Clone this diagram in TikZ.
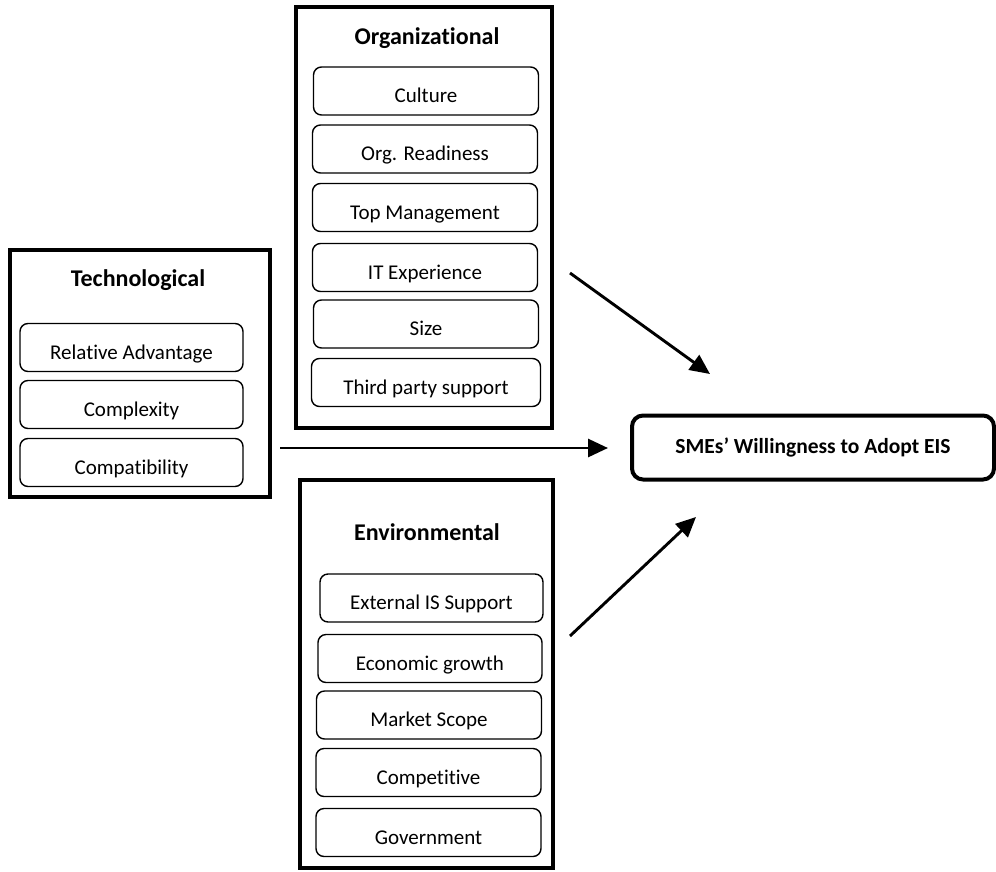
\documentclass[tikz,border=0pt]{standalone}
\usepackage{fontspec}
\setmainfont{Carlito}[Ligatures={NoCommon,NoContextual}, Contextuals=NoAlternate]
\usetikzlibrary{arrows.meta}

\begin{document}
\begin{tikzpicture}[x=1pt, y=-1pt,
  group/.style={draw, line width=3.5pt, inner sep=0pt},
  factor/.style={draw, line width=1.4pt, rounded corners=8pt, minimum width=225pt, minimum height=48pt,
    inner sep=0pt, text height=23.5pt, text depth=0pt, font=\fontsize{21}{25}\selectfont},
  heading/.style={font=\fontsize{24}{28}\selectfont\bfseries},
  outcome/.style={draw, line width=4pt, rounded corners=11pt, minimum width=362pt, minimum height=64pt,
    font=\fontsize{21.5}{26}\selectfont\bfseries},
  link/.style={line width=2.9pt, -{Triangle[length=20pt, width=18pt]}}]

\useasboundingbox (0,0) rectangle (996,871);

% the three groups
\node[group, minimum width=256pt, minimum height=421pt] (org) at (424,217.5) {};
\node[group, minimum width=260pt, minimum height=247pt] (tech) at (140,373.5) {};
\node[group, minimum width=253pt, minimum height=388pt] (env) at (426.5,674) {};

\node[heading] (orgtitle) at (427,38) {Organizational};
\node[heading] (techtitle) at (138,280) {Technological};
\node[heading] (envtitle) at (427,532) {Environmental};

% organizational factors
\node[factor] (culture) at (426,91) {Culture};
\node[factor] (ready) at (425,149) {Org. Readiness};
\node[factor] (topman) at (425,207.5) {Top Management};
\node[factor] (itexp) at (425,267.5) {IT Experience};
\node[factor] (size) at (426,324) {Size};
\node[factor, minimum width=229pt] (third) at (426,382.5) {Third party support};

% technological factors
\node[factor, minimum width=223pt] (reladv) at (131.5,347.5) {Relative Advantage};
\node[factor, minimum width=223pt] (complex) at (131.5,404.5) {Complexity};
\node[factor, minimum width=223pt] (compat) at (131.5,462.5) {Compatibility};

% environmental factors
\node[factor, minimum width=223pt] (extis) at (431.5,598) {External IS Support};
\node[factor, minimum width=224pt] (econ) at (430,658.5) {Economic growth};
\node[factor] (market) at (429,715) {Market Scope};
\node[factor] (compet) at (428.5,772.5) {Competitive};
\node[factor] (govt) at (428.5,832.5) {Government};

% outcome
\node[outcome] (sme) at (813,447.5) {SMEs’ Willingness to Adopt EIS};

\coordinate (orgout) at (570,273);
\coordinate (orgin) at (710,374);
\coordinate (techout) at (280,448);
\coordinate (techin) at (608,448);
\coordinate (envout) at (570,636);
\coordinate (envin) at (696,517);

\path[link]
(orgout) edge (orgin)
(techout) edge (techin)
(envout) edge (envin);
\end{tikzpicture}
\end{document}
